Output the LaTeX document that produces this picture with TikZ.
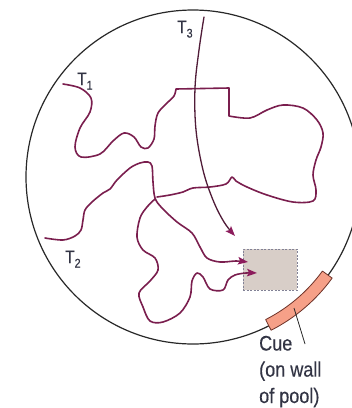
\documentclass[tikz,border=0pt]{standalone}
\usepackage{fontspec}
\setmainfont{Liberation Sans}
\newfontfamily\lblfont[FakeStretch=0.86,FakeBold=0.35]{Liberation Sans}
\usetikzlibrary{arrows.meta}
\definecolor{pathc}{RGB}{122,30,78}
\definecolor{tthree}{RGB}{80,28,56}
\definecolor{arrowc}{RGB}{140,28,92}
\definecolor{wallc}{RGB}{40,40,40}
\definecolor{boxfill}{RGB}{216,206,200}
\definecolor{boxline}{RGB}{130,130,150}
\definecolor{cuefill}{RGB}{246,160,136}
\definecolor{cueline}{RGB}{110,50,40}
\definecolor{txt}{RGB}{50,52,68}
\tikzset{
  trail/.style={draw=pathc, line width=1.6pt, line join=round, line cap=round},
  tthreeline/.style={draw=tthree, line width=1.3pt, line cap=round},
  tipped/.style={-{Stealth[length=10pt,width=7.5pt,inset=2pt,color=arrowc]}},
  tlabel/.style={text=txt, font=\lblfont\fontsize{18}{18}\selectfont, inner sep=0pt, anchor=base west},
  cuelabel/.style={text=txt, font=\lblfont\fontsize{21}{21}\selectfont, inner sep=0pt, anchor=base west},
  target/.style={draw=boxline, fill=boxfill, dash pattern=on 2pt off 1.5pt, line width=0.8pt, minimum width=54pt, minimum height=41pt, inner sep=0pt},
  cuestrip/.style={draw=cueline, fill=cuefill, line width=0.8pt, line join=round},
  wall/.style={draw=wallc, line width=1.2pt},
  leader/.style={draw=wallc, line width=0.8pt}
}
\newcommand{\sublbl}[1]{\raisebox{-4.5pt}{\fontsize{12.5}{12.5}\selectfont #1}}
\begin{document}
\begin{tikzpicture}[x=1pt,y=-1pt]
\useasboundingbox (0,0) rectangle (352,408);
\clip (0,0) rectangle (352,408);
\fill[white] (0,0) rectangle (352,408);
\coordinate (c) at (193,177);
% pool wall
\draw[wall] (c) circle[radius=167];
% target box
\node[target] (box) at (270,269.5) {};
% cue on wall
\draw[cuestrip] ([shift={(36:160)}]c) arc[start angle=36,end angle=63,radius=160]
  -- ([shift={(63:172)}]c) arc[start angle=63,end angle=36,radius=172] -- cycle;
% T1 path
\draw[trail] plot[smooth,tension=0.55] coordinates {(63,84) (80,88) (91,98) (90,112) (80,128) (75,147) (81,157) (100,154) (113,141) (124,133) (134,137) (141,147) (148,148) (154,139) (155,126) (158,113) (167,103) (174,96) (176,89)}
  -- (229,88) -- (229,115)
  -- plot[smooth,tension=0.55] coordinates {(229,116) (250,118) (267,110) (283,105) (303,108) (317,120) (323,133) (321,147) (316,160) (313,175) (316,190) (313,201) (293,202) (267,195) (247,187) (236,181) (232,177) (226,184) (210,187) (193,188) (183,192) (170,195) (157,197)};
% T2 path to upper arrow
\draw[trail,tipped] plot[smooth,tension=0.55] coordinates {(45,238) (63,240) (75,236) (81,230) (83,220) (85,210) (92,202) (103,193) (110,189) (117,180) (130,168) (140,163) (148,162) (152,166) (153,182) (155,198) (162,208) (177,222) (192,233) (200,247) (207,258) (220,262) (236,261) (248,262)};
% lower branch to lower arrow
\draw[trail,tipped] plot[smooth,tension=0.55] coordinates {(155,199) (147,207) (140,218) (137,237) (143,250) (155,258) (158,270) (150,281) (139,293) (143,307) (150,321) (163,322) (180,313) (190,297) (192,281) (197,273) (203,277) (210,289) (223,290) (228,280) (235,275) (246,273) (257,273)};
% T3 path
\draw[tthreeline,tipped] plot[smooth,tension=0.6] coordinates {(204,17) (199,50) (195,88) (196,130) (203,170) (213,200) (224,222) (235,236)};
% labels
\node[tlabel] (t1) at (77,85) {T\sublbl{1}};
\node[tlabel] (t2) at (65,263) {T\sublbl{2}};
\node[tlabel] (t3) at (177,33) {T\sublbl{3}};
\node[cuelabel] (cue1) at (259,350.5) {Cue};
\node[cuelabel] (cue2) at (259,376.6) {(on wall};
\node[cuelabel] (cue3) at (259,403) {of pool)};
\coordinate (leadA) at (305,344);
\coordinate (leadB) at (294,308);
\draw[leader] (leadA) -- (leadB);
\end{tikzpicture}
\end{document}
